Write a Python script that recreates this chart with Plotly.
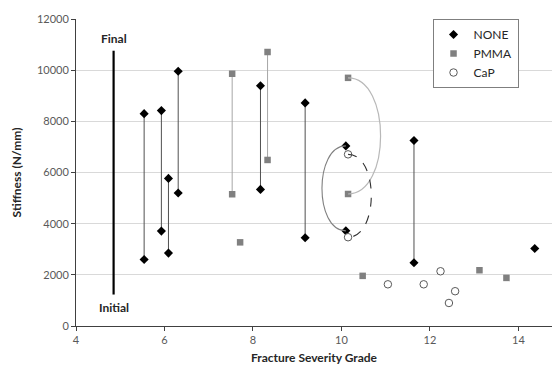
import plotly.graph_objects as go

# ---------------- data ----------------
# NONE: paired (initial -> final) measurements
none_pair_x = [5.54, 5.93, 6.09, 6.31, 8.17, 9.18, 11.64]
none_pair_initial = [2600, 3710, 2850, 5200, 5340, 3450, 2470]
none_pair_final = [8300, 8420, 5770, 9960, 9390, 8720, 7250]
none_arc_x = 10.10
none_arc_initial = 3720
none_arc_final = 7040
none_single_x = [14.37]
none_single_y = [3030]

# PMMA
pmma_pair_x = [7.53, 8.33]
pmma_pair_initial = [5150, 6490]
pmma_pair_final = [9860, 10710]
pmma_arc_x = 10.15
pmma_arc_initial = 5160
pmma_arc_final = 9700
pmma_single_x = [7.71, 10.48, 13.12, 13.73]
pmma_single_y = [3270, 1960, 2180, 1880]

# CaP
cap_arc_x = 10.15
cap_arc_initial = 3470
cap_arc_final = 6710
cap_single_x = [11.05, 11.86, 12.24, 12.57, 12.43]
cap_single_y = [1630, 1630, 2140, 1360, 900]

# Final / Initial indicator
ref_x = 4.85
ref_initial = 1230
ref_final = 10760

x_ticks = [4, 6, 8, 10, 12, 14]
y_ticks = [0, 2000, 4000, 6000, 8000, 10000, 12000]
y_tick_text = ["0", "2000", "4000", "6000", "8000", "10000", "12000"]

FONT = "Lato, 'Liberation Sans', sans-serif"

fig = go.Figure()


def segs(xs, y0s, y1s):
    X, Y = [], []
    for x, a, b in zip(xs, y0s, y1s):
        X += [x, x, None]
        Y += [a, b, None]
    return X, Y


# connectors
X, Y = segs(none_pair_x, none_pair_initial, none_pair_final)
fig.add_trace(go.Scatter(x=X, y=Y, mode="lines", line=dict(color="#505050", width=1),
                         showlegend=False, hoverinfo="skip"))
X, Y = segs(pmma_pair_x, pmma_pair_initial, pmma_pair_final)
fig.add_trace(go.Scatter(x=X, y=Y, mode="lines", line=dict(color="#a6a6a6", width=1),
                         showlegend=False, hoverinfo="skip"))
fig.add_trace(go.Scatter(x=[ref_x, ref_x], y=[ref_initial, ref_final], mode="lines",
                         line=dict(color="black", width=2.2), showlegend=False, hoverinfo="skip"))


def arc_path(x, y0, y1, bulge):
    c = x + bulge
    return f"M {x},{y1} C {c},{y1} {c},{y0} {x},{y0}"


fig.add_shape(type="path", xref="x", yref="y",
              path=arc_path(pmma_arc_x, pmma_arc_initial, pmma_arc_final, 0.98),
              line=dict(color="#b8b8b8", width=1.2))
fig.add_shape(type="path", xref="x", yref="y",
              path=arc_path(none_arc_x, none_arc_initial, none_arc_final, -0.72),
              line=dict(color="#808080", width=1.1))
fig.add_shape(type="path", xref="x", yref="y",
              path=arc_path(cap_arc_x, cap_arc_initial, cap_arc_final, 0.70),
              line=dict(color="#303030", width=1.1, dash="dash"))

# markers
none_x_all = none_pair_x + none_pair_x + [none_arc_x, none_arc_x] + none_single_x
none_y_all = none_pair_initial + none_pair_final + [none_arc_initial, none_arc_final] + none_single_y
pmma_x_all = pmma_pair_x + pmma_pair_x + [pmma_arc_x, pmma_arc_x] + pmma_single_x
pmma_y_all = pmma_pair_initial + pmma_pair_final + [pmma_arc_initial, pmma_arc_final] + pmma_single_y
cap_x_all = [cap_arc_x, cap_arc_x] + cap_single_x
cap_y_all = [cap_arc_initial, cap_arc_final] + cap_single_y

fig.add_trace(go.Scatter(x=none_x_all, y=none_y_all, mode="markers", name="NONE",
                         marker=dict(symbol="diamond", size=7, color="black")))
fig.add_trace(go.Scatter(x=pmma_x_all, y=pmma_y_all, mode="markers", name="PMMA",
                         marker=dict(symbol="square", size=6.5, color="#808080")))
fig.add_trace(go.Scatter(x=cap_x_all, y=cap_y_all, mode="markers", name="CaP",
                         marker=dict(symbol="circle", size=7.5, color="white",
                                     line=dict(color="#595959", width=1))))

fig.add_annotation(x=ref_x, y=11250, xref="x", yref="y", text="<b>Final</b>", showarrow=False,
                   font=dict(family=FONT, size=12, color="#262626"))
fig.add_annotation(x=ref_x, y=730, xref="x", yref="y", text="<b>Initial</b>", showarrow=False,
                   font=dict(family=FONT, size=12, color="#262626"))

fig.update_layout(
    width=552, height=365,
    margin=dict(l=76, r=0, t=19, b=39),
    plot_bgcolor="white", paper_bgcolor="white",
    font=dict(family=FONT, size=11, color="#595959"),
    legend=dict(x=0.749, y=1.0, xanchor="left", yanchor="top",
                bordercolor="#7f7f7f", borderwidth=1, bgcolor="white",
                font=dict(family=FONT, size=12, color="#262626"),
                itemwidth=30, tracegroupgap=0),
    xaxis=dict(range=[4, 14.76], tickvals=x_ticks, showgrid=False, zeroline=False,
               showline=True, linecolor="#404040", linewidth=1,
               ticks="outside", ticklen=4, tickcolor="#404040",
               title=dict(text="<b>Fracture Severity Grade</b>", standoff=10,
                          font=dict(family=FONT, size=12, color="#262626"))),
    yaxis=dict(range=[0, 12000], tickvals=y_ticks, ticktext=y_tick_text,
               showgrid=True, gridcolor="#d9d9d9",
               zeroline=False, showline=True, linecolor="#404040", linewidth=1,
               ticks="outside", ticklen=4, tickcolor="#404040",
               title=dict(text="<b>Stiffness (N/mm)</b>", standoff=12,
                          font=dict(family=FONT, size=12, color="#262626"))),
)

fig.write_html("out.html")
